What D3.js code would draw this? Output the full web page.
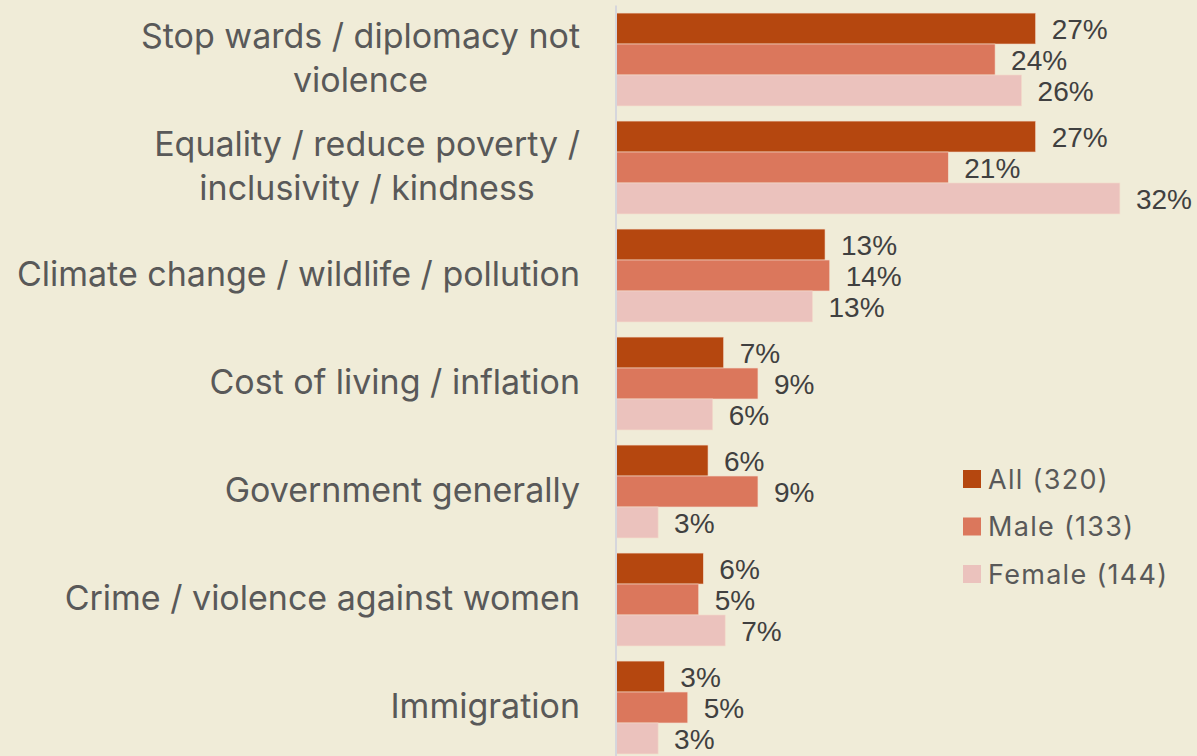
<!DOCTYPE html>
<html>
<head>
<meta charset="utf-8">
<script src="https://cdn.jsdelivr.net/npm/d3@7"></script>
<style>
  body { margin: 0; background: #F0ECD8; overflow: hidden; }
  .cat-label { font-family: Inter, "Noto Sans", sans-serif; font-size: 34px; fill: #595959; }
  .value-label { font-family: "Liberation Sans", Arial, sans-serif; font-size: 28px; fill: #404040; }
  .legend-label { font-family: Inter, "Noto Sans", sans-serif; font-size: 27px; letter-spacing: 1.3px; fill: #595959; }
</style>
</head>
<body>
<script>
// chart data
const categories = [
    "Stop wards / diplomacy not violence",
    "Equality / reduce poverty / inclusivity / kindness",
    "Climate change / wildlife / pollution",
    "Cost of living / inflation",
    "Government generally",
    "Crime / violence against women",
    "Immigration"
];
// where the long labels break
const categoryLines = [
    ["Stop wards / diplomacy not", "violence"],
    ["Equality / reduce poverty /", "inclusivity / kindness"],
    ["Climate change / wildlife / pollution"],
    ["Cost of living / inflation"],
    ["Government generally"],
    ["Crime / violence against women"],
    ["Immigration"]
];
const seriesNames = ["All (320)", "Male (133)", "Female (144)"];
const allValues = [26.9, 26.9, 13.4, 6.9, 5.9, 5.6, 3.1];
const maleValues = [24.3, 21.3, 13.7, 9.1, 9.1, 5.3, 4.6];
const femaleValues = [26.0, 32.3, 12.6, 6.2, 2.7, 7.0, 2.7];
const colors = ["#B5470F", "#DB775C", "#EBC2BD"];

function draw() {
    "use strict";

    let width = 1197,
        height = 756,
        axisX = 616,
        labelRight = 580;

    let svg = d3.select("body")
        .append("svg")
        .attr("width", width)
        .attr("height", height);

    svg.append("rect")
        .attr("width", width)
        .attr("height", height)
        .attr("fill", "#F0ECD8");

    let series = [allValues, maleValues, femaleValues];

    let y0 = d3.scaleBand()
        .domain(categories)
        .range([5.5, 761.5])
        .paddingInner(0.14)
        .paddingOuter(0.07);

    let y1 = d3.scaleBand()
        .domain(seriesNames)
        .range([0, y0.bandwidth()]);

    let x = d3.scaleLinear()
        .domain([0, 36])
        .range([axisX, axisX + 36 * 15.6]);

    let rows = [];
    categories.forEach(function (c, i) {
        series.forEach(function (s, j) {
            rows.push({ cat: c, name: seriesNames[j], value: s[i], color: colors[j] });
        });
    });

    // bars
    svg.selectAll("rect.bar")
        .data(rows)
        .enter().append("rect")
        .attr("class", "bar")
        .attr("x", x(0))
        .attr("y", function (d) { return y0(d.cat) + y1(d.name); })
        .attr("width", function (d) { return x(d.value) - x(0); })
        .attr("height", y1.bandwidth())
        .attr("fill", function (d) { return d.color; })
        .attr("stroke", "#F3DCCB")
        .attr("stroke-width", 0.6);

    // value labels
    svg.selectAll("text.value-label")
        .data(rows)
        .enter().append("text")
        .attr("class", "value-label")
        .attr("x", function (d) { return x(d.value) + 16; })
        .attr("y", function (d) { return y0(d.cat) + y1(d.name) + y1.bandwidth() / 2; })
        .attr("dy", "0.36em")
        .text(function (d) { return Math.round(d.value) + "%"; });

    // vertical axis line
    svg.append("line")
        .attr("x1", axisX)
        .attr("x2", axisX)
        .attr("y1", y0.range()[0])
        .attr("y2", y0.range()[1])
        .attr("stroke", "#D6D6DC")
        .attr("stroke-width", 2);

    // category labels, lines centred in a right-aligned block
    let lineH = 44;
    categories.forEach(function (c, i) {
        let lines = categoryLines[i];
        let cy = y0(c) + y0.bandwidth() / 2 - 1.5;
        let g = svg.append("text")
            .attr("class", "cat-label")
            .attr("text-anchor", "middle");
        lines.forEach(function (l, k) {
            g.append("tspan")
                .attr("y", cy + (k - (lines.length - 1) / 2) * lineH)
                .attr("dy", "0.36em")
                .text(l);
        });
        let w = d3.max(g.selectAll("tspan").nodes(), function (n) { return n.getComputedTextLength(); });
        g.selectAll("tspan").attr("x", labelRight - w / 2);
    });

    // legend
    let legend = svg.selectAll("g.legend")
        .data(seriesNames)
        .enter().append("g")
        .attr("class", "legend")
        .attr("transform", function (d, i) { return "translate(963," + (479 + i * 47.5) + ")"; });

    legend.append("rect")
        .attr("x", 0)
        .attr("y", -9)
        .attr("width", 18)
        .attr("height", 18)
        .attr("fill", function (d, i) { return colors[i]; });

    legend.append("text")
        .attr("class", "legend-label")
        .attr("x", 25)
        .attr("dy", "0.36em")
        .text(function (d) { return d; });
}

draw();
</script>
</body>
</html>
